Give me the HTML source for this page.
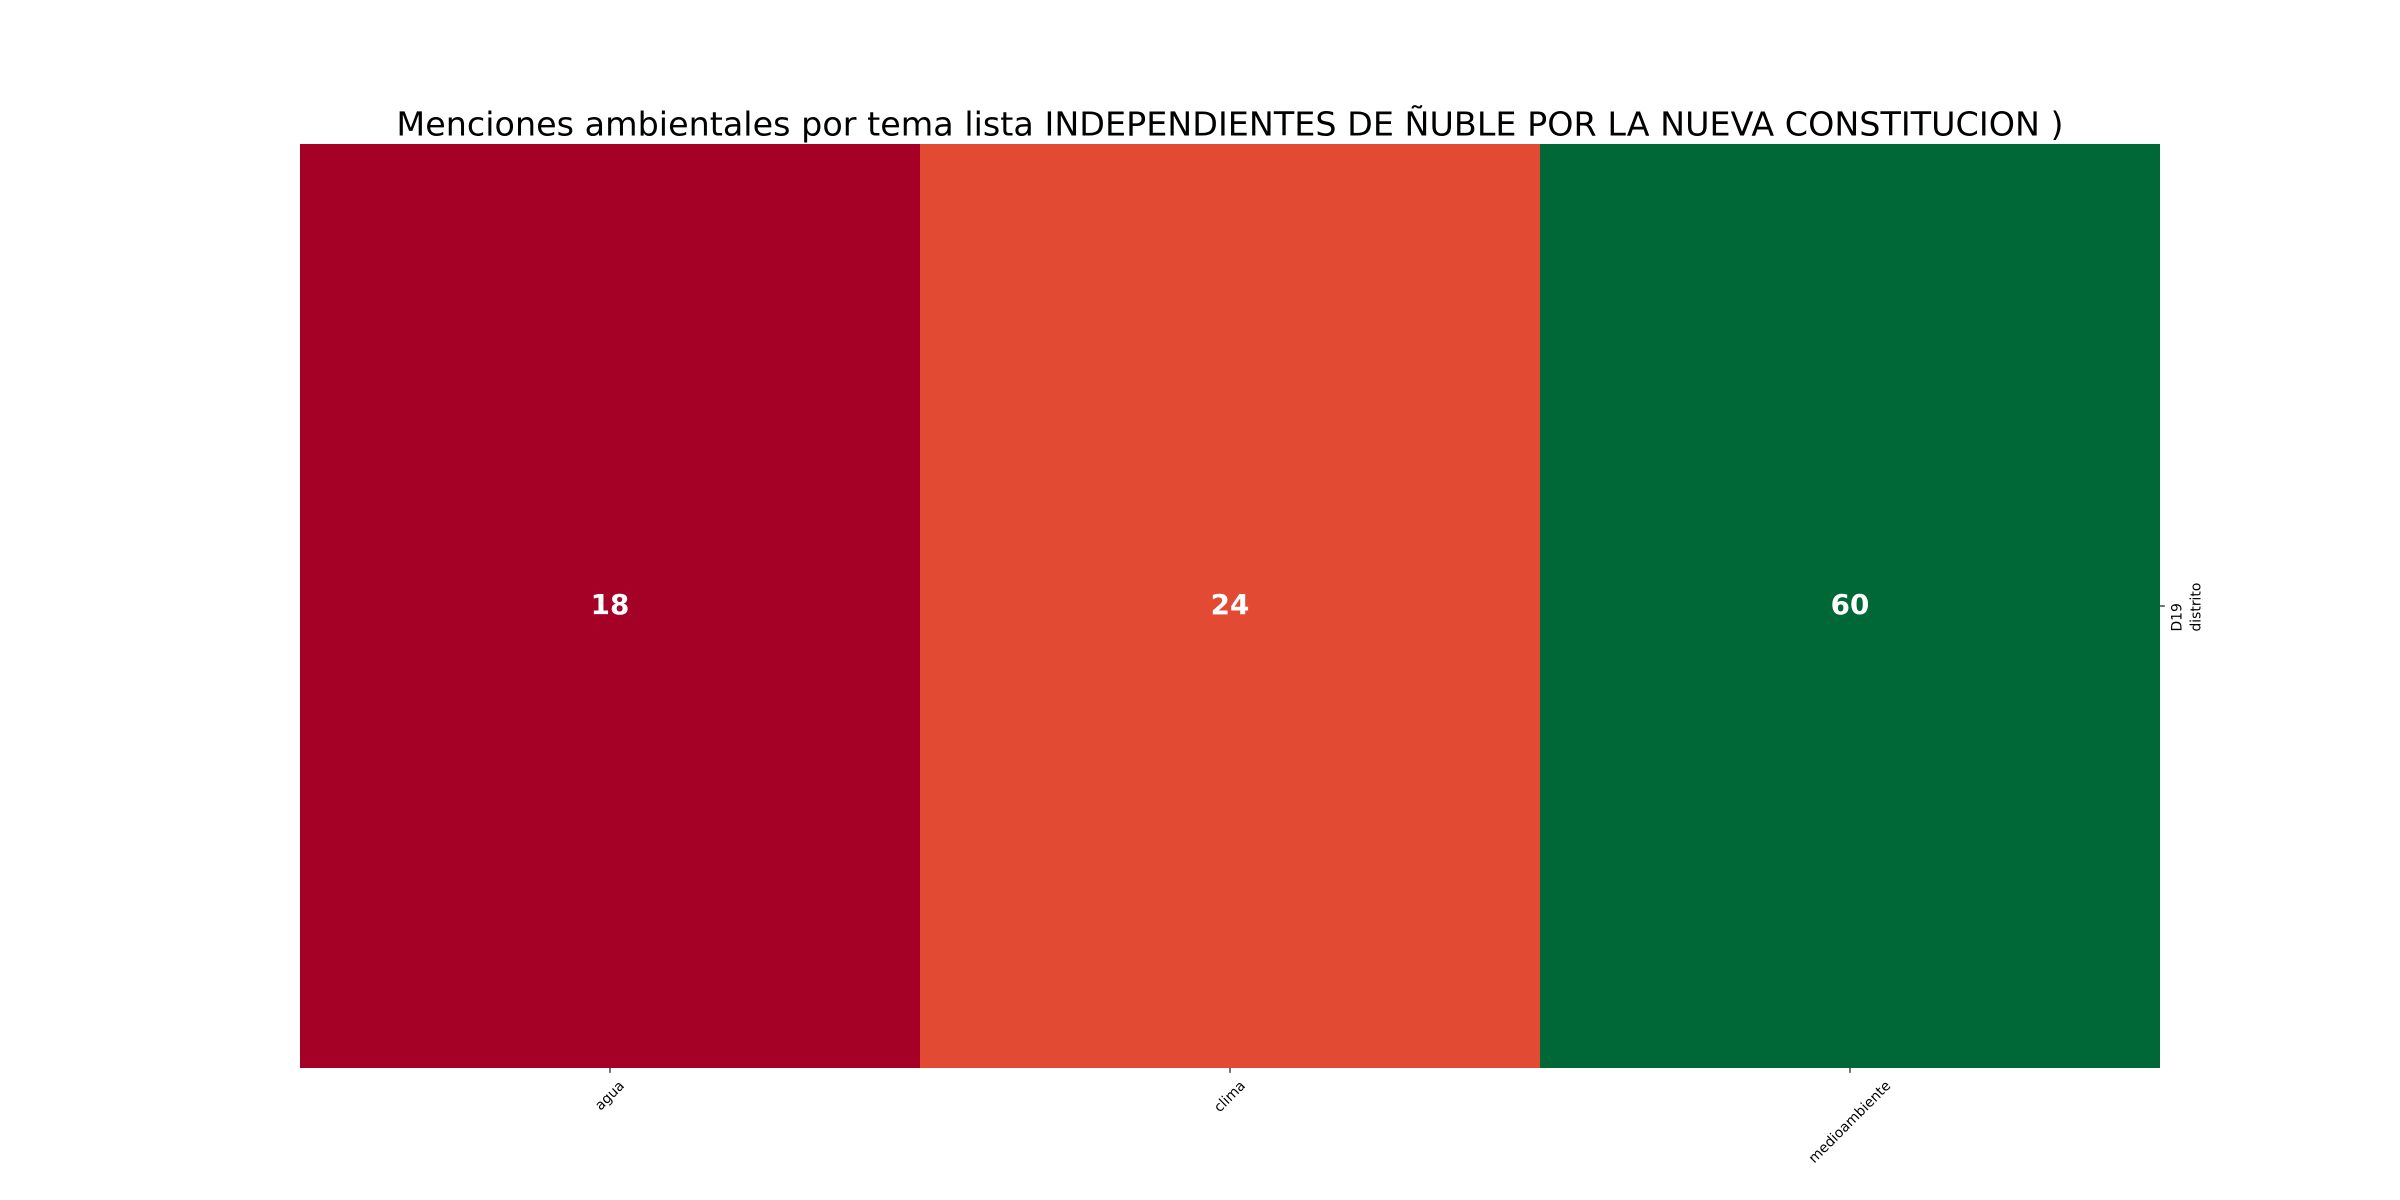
<!DOCTYPE html>
<html lang="es">
<head>
<meta charset="utf-8">
<title>Menciones ambientales por tema</title>
<style>
html,body{margin:0;padding:0;background:#fff;}
svg{display:block;font-family:"DejaVu Sans",sans-serif;}
</style>
</head>
<body>
<svg id="chart" xmlns="http://www.w3.org/2000/svg" width="2400" height="1200" viewBox="0 0 2400 1200">
  <rect x="0" y="0" width="2400" height="1200" fill="#ffffff"/>
  <g id="cells"></g>
  <g id="ticks"></g>
  <text x="1230" y="135.7" text-anchor="middle" font-size="33.33" letter-spacing="0.03" fill="#000">Menciones ambientales por tema lista INDEPENDIENTES DE ÑUBLE POR LA NUEVA CONSTITUCION )</text>
  <text transform="translate(2200.7,631.5) rotate(-90)" font-size="13.89" fill="#000">distrito</text>
</svg>
<script>
const categories = ['agua', 'clima', 'medioambiente'];
const rows = ['D19'];
const values = [18, 24, 60];

const NS = 'http://www.w3.org/2000/svg';
const plot = {left: 300, right: 2160, top: 144, bottom: 1068};
const rdylgn = ['#a50026','#d73027','#f46d43','#fdae61','#fee08b','#ffffbf','#d9ef8b','#a6d96a','#66bd63','#1a9850','#006837'];

function hex(c){return [1,3,5].map(i=>parseInt(c.slice(i,i+2),16));}
function colorScale(v){
  const lo = Math.min(...values), hi = Math.max(...values);
  const t = hi===lo ? 0 : Math.max(0,Math.min(1,(v-lo)/(hi-lo)));
  const p = t*(rdylgn.length-1), i = Math.min(Math.floor(p),rdylgn.length-2), f = p-i;
  const a = hex(rdylgn[i]), b = hex(rdylgn[i+1]);
  return 'rgb('+a.map((x,k)=>Math.round(x+(b[k]-x)*f)).join(',')+')';
}
function xBand(i){return plot.left + i*(plot.right-plot.left)/categories.length;}
function yBand(i){return plot.top + i*(plot.bottom-plot.top)/rows.length;}

const cellsG = document.getElementById('cells');
const ticksG = document.getElementById('ticks');
const svgRoot = document.getElementById('chart');
function make(tag, attrs, parent){
  const el = document.createElementNS(NS, tag);
  for (const k in attrs) el.setAttribute(k, attrs[k]);
  parent.appendChild(el);
  return el;
}

const rowMid = (yBand(0)+yBand(1))/2;

categories.forEach(function(cat, i){
  const x0 = xBand(i), x1 = xBand(i+1), mid = (x0+x1)/2;
  const cell = make('rect', {x:x0, y:yBand(0), width:x1-x0, height:yBand(1)-yBand(0), fill:colorScale(values[i])}, cellsG);
  
  

  const val = make('text', {x:mid, y:rowMid+8, 'text-anchor':'middle', 'font-size':'27.78', 'font-weight':'bold', fill:'#ffffff'}, cellsG);
  
  
  val.textContent = values[i];

  const tick = make('line', {x1:mid, x2:mid, y1:plot.bottom, y2:plot.bottom+4.86, stroke:'#000', 'stroke-width':1.1}, ticksG);
  
  

  const lab = make('text', {'text-anchor':'middle', 'font-size':'13.89', fill:'#000', transform:'translate('+mid+',1100) rotate(-45)'}, ticksG);
  
  
  lab.textContent = cat;
  const box = lab.getBoundingClientRect();
  const cx = box.left + box.width/2;
  lab.setAttribute('transform', 'translate('+(mid+(mid-cx))+','+(1100+(1078-box.top))+') rotate(-45)');
});

rows.forEach(function(row, j){
  const mid = (yBand(j)+yBand(j+1))/2;
  const tick = make('line', {x1:plot.right, x2:plot.right+4.86, y1:mid, y2:mid, stroke:'#000', 'stroke-width':1.1}, ticksG);
  
  
  const lab = make('text', {'font-size':'13.89', fill:'#000', transform:'translate(2181.7,'+(mid+25.5)+') rotate(-90)'}, ticksG);
  
  
  lab.textContent = row;
});
</script>
</body>
</html>
